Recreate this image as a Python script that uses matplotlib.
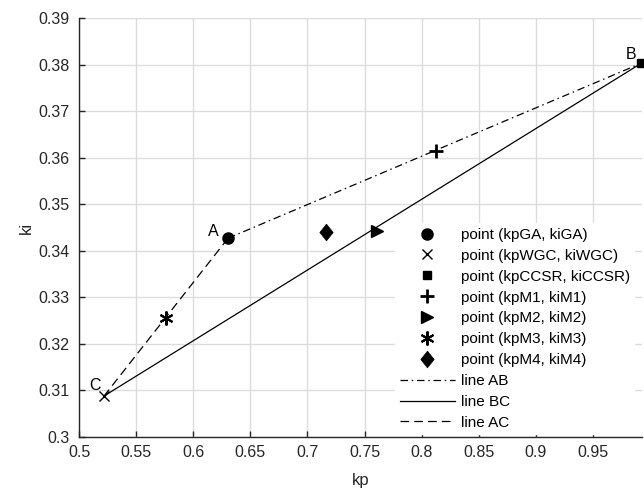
import matplotlib
matplotlib.use("Agg")
import matplotlib.pyplot as plt

plt.rcParams['font.family'] = ['Liberation Sans', 'DejaVu Sans']

# data
names = ["GA", "WGC", "CCSR", "M1", "M2", "M3", "M4"]
kp_vals = [0.6305, 0.5219, 0.9925, 0.8123, 0.7611, 0.5762, 0.7162]
ki_vals = [0.3427, 0.3088, 0.3803, 0.3615, 0.3443, 0.3256, 0.3441]
point_labels = ["point (kpGA, kiGA)", "point (kpWGC, kiWGC)", "point (kpCCSR, kiCCSR)",
                "point (kpM1, kiM1)", "point (kpM2, kiM2)", "point (kpM3, kiM3)",
                "point (kpM4, kiM4)"]
line_labels = ["line AB", "line BC", "line AC"]
x_ticks = [0.5, 0.55, 0.6, 0.65, 0.7, 0.75, 0.8, 0.85, 0.9, 0.95]
y_ticks = [0.3, 0.31, 0.32, 0.33, 0.34, 0.35, 0.36, 0.37, 0.38, 0.39]

diamond = [(0, 1), (0.8, 0), (0, -1), (-0.8, 0), (0, 1)]
markers = ['o', 'x', 's', '+', '>', (6, 2, 0), diamond]
msizes = [8, 7, 6, 10, 8, 10, 12]
mews = [1.0, 1.0, 1.0, 2.0, 1.0, 1.5, 0.5]

fig = plt.figure(figsize=(6.44, 4.91), dpi=100)
ax = fig.add_axes([0.1227, 0.110, 0.8742, 0.8533])

A = (kp_vals[0], ki_vals[0])
C = (kp_vals[1], ki_vals[1])
B = (kp_vals[2], ki_vals[2])

lAB, = ax.plot([A[0], B[0]], [A[1], B[1]], color='black', lw=0.9, ls=(0, (6, 3, 1.2, 3)), label=line_labels[0], clip_on=False)
lBC, = ax.plot([B[0], C[0]], [B[1], C[1]], color='black', lw=0.9, ls='-', label=line_labels[1], clip_on=False)
lAC, = ax.plot([A[0], C[0]], [A[1], C[1]], color='black', lw=0.9, ls=(0, (7, 4)), label=line_labels[2], clip_on=False)

phandles = []
for kx, ky, m, ms, mew, lab in zip(kp_vals, ki_vals, markers, msizes, mews, point_labels):
    h, = ax.plot([kx], [ky], ls='none', marker=m, ms=ms, color='black', mfc='black', mec='black',
                 mew=mew, label=lab, clip_on=False, zorder=5)
    phandles.append(h)

ax.text(A[0] - 0.008, A[1] - 0.0002, "A", ha='right', va='bottom', fontsize=11.5)
ax.text(B[0] - 0.004, B[1] + 0.0003, "B", ha='right', va='bottom', fontsize=11.5)
ax.text(C[0] - 0.003, C[1] + 0.0006, "C", ha='right', va='bottom', fontsize=11.5)

ax.set_xlim(0.5, 0.993)
ax.set_ylim(0.3, 0.39)
ax.set_xticks(x_ticks)
ax.set_yticks(y_ticks)
ax.set_xticklabels([f"{v:g}" for v in x_ticks])
ax.set_yticklabels([f"{v:g}" for v in y_ticks])
ax.grid(True, color='#dcdcdc', lw=1.0)
ax.set_axisbelow(True)
for s in ['top', 'right']:
    ax.spines[s].set_visible(False)
for s in ['left', 'bottom']:
    ax.spines[s].set_color('#262626')
    ax.spines[s].set_linewidth(1.0)
ax.tick_params(direction='in', length=4, width=1, colors='#262626', labelsize=11.5, labelcolor='#262626')
ax.tick_params(axis='x', pad=6)
ax.tick_params(axis='y', pad=7)
ax.set_xlabel("kp", fontsize=12, color='#262626', labelpad=9)
ax.set_ylabel("ki", fontsize=12, color='#262626', labelpad=3)

leg = ax.legend(handles=phandles + [lAB, lBC, lAC], loc='lower right',
                bbox_to_anchor=(1.0, -0.012), frameon=True, fancybox=False,
                edgecolor='white', facecolor='white', framealpha=1, fontsize=11,
                handlelength=3.6, handletextpad=0.4, labelspacing=0.45, borderpad=0.3)

fig.savefig("out.png", dpi=100)
